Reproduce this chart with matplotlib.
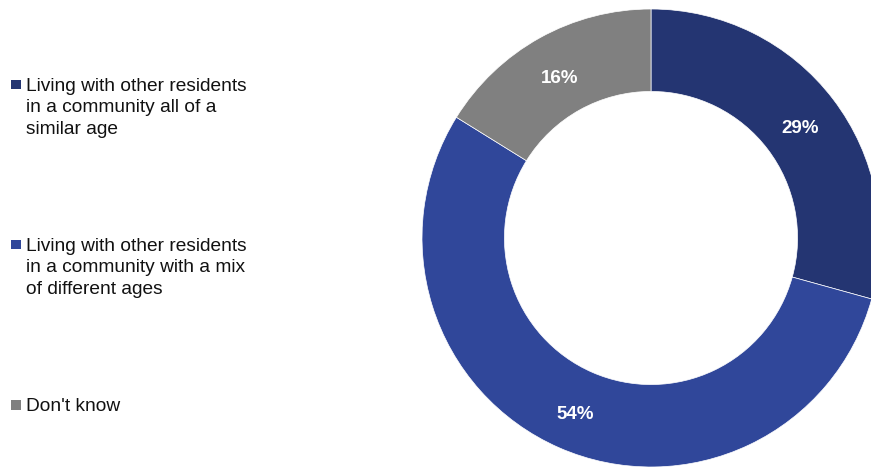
import matplotlib
matplotlib.use("Agg")
import matplotlib.pyplot as plt
from matplotlib.patches import Rectangle
import numpy as np

categories = ["Living with other residents\nin a community all of a\nsimilar age",
              "Living with other residents\nin a community with a mix\nof different ages",
              "Don't know"]
values = [29, 54, 16]
pct_labels = ["29%", "54%", "16%"]
colors = ["#243572", "#30479A", "#808080"]

W, H = 871, 469
fig = plt.figure(figsize=(W/100, H/100), dpi=100)
plt.rcParams['font.family'] = ['Liberation Sans', 'DejaVu Sans']

cx, cy, R = 651, 238, 229
ax = fig.add_axes([(cx-R)/W, (H-cy-R)/H, 2*R/W, 2*R/H])
wedges, _ = ax.pie(values, colors=colors, startangle=90, counterclock=False,
                   radius=1, wedgeprops=dict(width=0.36, edgecolor='white', linewidth=0.5))
total = sum(values)
ang = 90
for v, lab in zip(values, pct_labels):
    mid = ang - v/total*360/2
    ang -= v/total*360
    r = 0.82
    ax.annotate(lab, (r*np.cos(np.radians(mid)), r*np.sin(np.radians(mid))),
                xytext=(0, -3), textcoords='offset points',
                ha='center', va='center', color='white', fontsize=13.5, fontweight='bold')
ax.set_xlim(-1, 1); ax.set_ylim(-1, 1)
ax.set_aspect('equal')
ax.axis('off')

# legend
ys = [85, 245, 405]
for cat, col, y in zip(categories, colors, ys):
    fig.patches.append(Rectangle((11/W, (H-y-4.5)/H), 9.5/W, 9.5/H, transform=fig.transFigure,
                                 facecolor=col, edgecolor='none'))
    fig.text(26/W, (H-y+7)/H, cat, ha='left', va='top', fontsize=13.8,
             color='#111111', linespacing=1.33)

fig.savefig("out.png", dpi=100)
